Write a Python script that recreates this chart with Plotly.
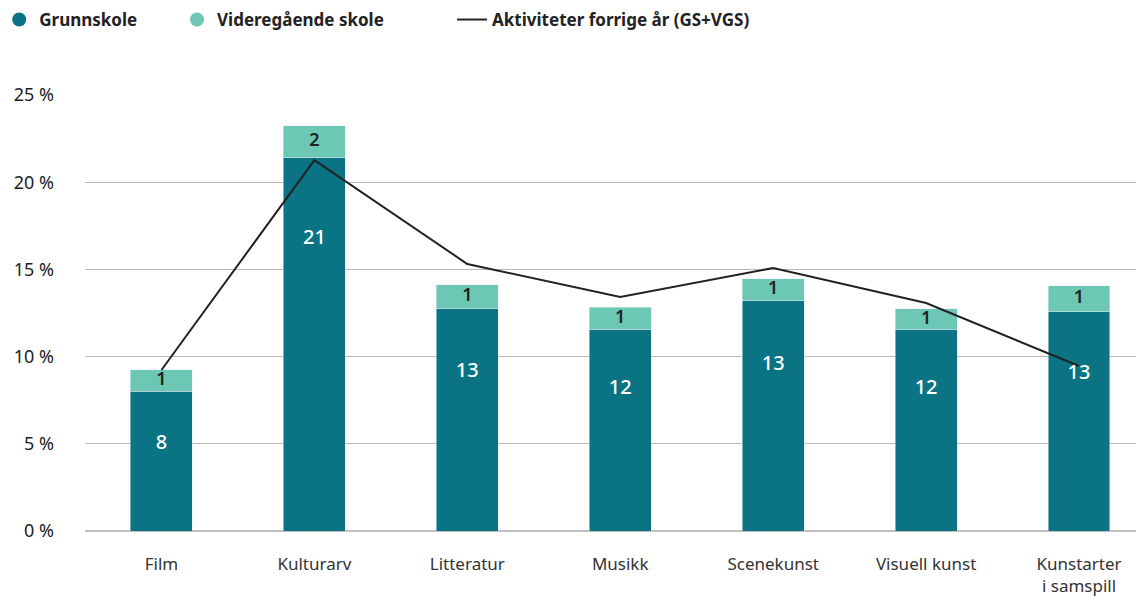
import plotly.graph_objects as go

categories = ["Film", "Kulturarv", "Litteratur", "Musikk", "Scenekunst", "Visuell kunst", "Kunstarter<br>i samspill"]
grunnskole = [8.0, 21.4, 12.73, 11.58, 13.19, 11.58, 12.56]
vgs = [1.25, 1.83, 1.38, 1.26, 1.26, 1.15, 1.49]
forrige_aar = [9.23, 21.27, 15.31, 13.42, 15.08, 13.07, 9.46]
grunn_labels = ["8", "21", "13", "12", "13", "12", "13"]
vgs_labels = ["1", "2", "1", "1", "1", "1", "1"]
y_ticks = [0, 5, 10, 15, 20, 25]
y_ticktext = ["0 %", "5 %", "10 %", "15 %", "20 %", "25 %"]

C_GS = "#0b7484"
C_VGS = "#6cc8b4"
C_LINE = "#222222"
FONT = "Noto Sans"

x = list(range(len(categories)))
fig = go.Figure()

fig.add_trace(go.Bar(x=x, y=grunnskole, marker_color=C_GS, width=0.405,
                     showlegend=False, hoverinfo="skip"))
fig.add_trace(go.Bar(x=x, y=vgs, marker_color=C_VGS, width=0.405,
                     showlegend=False, hoverinfo="skip"))
fig.add_trace(go.Scatter(x=x, y=forrige_aar, mode="lines",
                         line=dict(color=C_LINE, width=2), showlegend=False, hoverinfo="skip"))
fig.add_trace(go.Scatter(x=x, y=[0.88 * g - 2.07 for g in grunnskole], mode="text",
                         text=grunn_labels, textfont=dict(color="white", size=20, family=FONT, weight=500),
                         showlegend=False, hoverinfo="skip"))
fig.add_trace(go.Scatter(x=x, y=[g + v / 2 for g, v in zip(grunnskole, vgs)], mode="text",
                         text=vgs_labels, textfont=dict(color="#222222", size=18, family=FONT, weight=600),
                         showlegend=False, hoverinfo="skip"))

# legend entries
fig.add_trace(go.Scatter(x=[None], y=[None], mode="markers", name="Grunnskole", legend="legend",
                         marker=dict(color=C_GS, size=14, symbol="circle")))
fig.add_trace(go.Scatter(x=[None], y=[None], mode="markers", name="Videregående skole", legend="legend2",
                         marker=dict(color=C_VGS, size=14, symbol="circle")))
fig.add_trace(go.Scatter(x=[None], y=[None], mode="lines", name="Aktiviteter forrige år (GS+VGS)",
                         legend="legend3", line=dict(color=C_LINE, width=2)))

legfont = dict(size=17, family=FONT, weight="bold", color="#222222")
common = dict(orientation="h", xref="paper", yref="container", xanchor="left", yanchor="middle",
              y=0.9797, font=legfont, itemwidth=30, bgcolor="rgba(0,0,0,0)", borderwidth=0)

# the page body adds an 8px margin, so the figure is sized to fit the window exactly
fig.update_layout(
    width=1136, height=590,
    barmode="stack",
    plot_bgcolor="white", paper_bgcolor="white",
    margin=dict(l=77, r=0, t=87, b=67, autoexpand=False),
    font=dict(family=FONT, color="#222222"),
    legend=dict(x=-0.081, **common),
    legend2=dict(x=0.0869, **common),
    legend3=dict(x=0.3466, **common),
    xaxis=dict(tickmode="array", tickvals=x, ticktext=categories, range=[-0.5, 6.425],
               showgrid=False, zeroline=False, showline=False, ticks="", automargin=False,
               ticklabelstandoff=21,
               tickfont=dict(size=17, color="#333333", family=FONT)),
    yaxis=dict(range=[0, 25], tickmode="array", tickvals=y_ticks, ticktext=y_ticktext,
               showgrid=True, gridcolor="#b8b8b8", gridwidth=1, zeroline=True,
               zerolinecolor="#c0c0c0", zerolinewidth=2, automargin=False,
               tickfont=dict(size=18, color="#222222", family=FONT),
               ticklabelstandoff=30, ticks=""),
)

fig.write_html("out.html")
